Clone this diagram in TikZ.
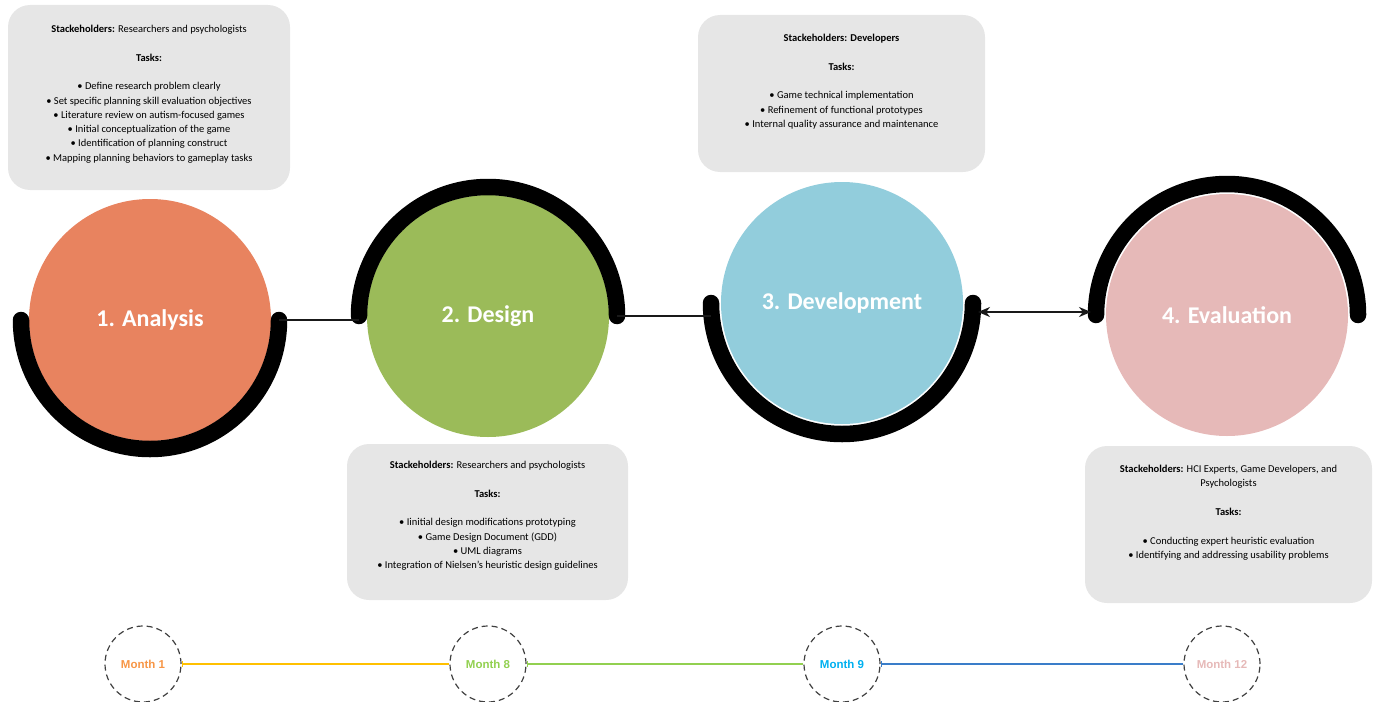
\documentclass[tikz,border=0pt]{standalone}
\usepackage{fontspec}
\setmainfont{Carlito}
\newfontfamily\monthfont{Liberation Sans}
\usetikzlibrary{arrows.meta,calc}

\definecolor{analysisC}{HTML}{E8835F}
\definecolor{designC}{HTML}{9BBB59}
\definecolor{devC}{HTML}{92CDDC}
\definecolor{evalC}{HTML}{E6B9B8}
\definecolor{boxC}{HTML}{E6E6E6}
\definecolor{m1C}{HTML}{F79646}
\definecolor{m8C}{HTML}{92D050}
\definecolor{m9C}{HTML}{00B0F0}
\definecolor{m12C}{HTML}{E6B9B8}
\definecolor{line1C}{HTML}{FFC000}
\definecolor{line2C}{HTML}{92D050}
\definecolor{line3C}{HTML}{3A7DC9}

\begin{document}
\begin{tikzpicture}[x=1pt,y=1pt,
  phase/.style={circle, fill=#1, draw=none, minimum size=242pt, inner sep=0pt,
    text=white, font=\fontsize{24}{28}\selectfont\bfseries},
  ring/.style={line width=16.5pt, line cap=round, black},
  link/.style={line width=1.8pt, black!90},
  infobox/.style={fill=boxC, draw=none, rounded corners=22pt, inner sep=0pt},
  infotext/.style={align=center, inner sep=0pt, anchor=north,
    font=\fontsize{10.5}{14.3}\selectfont},
  monthnode/.style={circle, draw=black!75, dashed, dash pattern=on 6pt off 4pt,
    line width=1.2pt, minimum size=76pt, inner sep=0pt,
    font=\monthfont\fontsize{11.5}{13}\selectfont\bfseries, text=#1},
  monthline/.style={line width=1.5pt, draw=#1, {Bar[width=6pt,length=0pt]}-}
]
\useasboundingbox (0,0) rectangle (1375,-701);

% phase circles
\node[phase=analysisC] (c1) at (150,-320) {1. Analysis};
\node[phase=designC]   (c2) at (488,-316) {2. Design};
\node[phase=devC]      (c3) at (842,-303) {3. Development};
\node[phase=evalC]     (c4) at (1227,-315) {4. Evaluation};

% half rings around the circles
\draw[ring] ($(c1.center)+(180:129)$) coordinate (c1s)
  arc[start angle=180, end angle=360, radius=129] coordinate (c1e);
\draw[ring] ($(c2.center)+(180:129)$) coordinate (c2s)
  arc[start angle=180, end angle=0, radius=129] coordinate (c2e);
\draw[ring] ($(c3.center)+(180:131)$) coordinate (c3s)
  arc[start angle=180, end angle=360, radius=131] coordinate (c3e);
\draw[ring] ($(c4.center)+(180:131)$) coordinate (c4s)
  arc[start angle=180, end angle=0, radius=131] coordinate (c4e);

% connectors between the phases
\draw[link] (c1e) -- (c1e -| c2s);
\draw[link] (c2e) -- (c2e -| c3s);
\coordinate (a3) at ($(c3e)+(5,-9)$);
\coordinate (a4) at ($(a3 -| c4s)+(-5,0)$);
\draw[link, {Stealth[length=12pt,width=10pt]}-{Stealth[length=12pt,width=10pt]}]
  (a3) -- (a4);

% information boxes
\node[infobox, minimum width=282pt, minimum height=185pt] (b1) at (149,-97.5) {};
\node[infotext] (t1) at (149,-25) {%
  \textbf{Stackeholders:} Researchers and psychologists\\[14.3pt]
  \textbf{Tasks:}\\[14.3pt]
  • Define research problem clearly\\
  • Set specific planning skill evaluation objectives\\
  • Literature review on autism-focused games\\
  • Initial conceptualization of the game\\
  • Identification of planning construct\\
  • Mapping planning behaviors to gameplay tasks};

\node[infobox, minimum width=287pt, minimum height=157pt] (b2) at (841.5,-93.5) {};
\node[infotext] (t2) at (841.5,-34) {%
  \textbf{Stackeholders: Developers}\\[14.3pt]
  \textbf{Tasks:}\\[14.3pt]
  • Game technical implementation\\
  • Refinement of functional prototypes\\
  • Internal quality assurance and maintenance};

\node[infobox, minimum width=281pt, minimum height=156pt] (b3) at (487.5,-522) {};
\node[infotext] (t3) at (487.5,-461) {%
  \textbf{Stackeholders:} Researchers and psychologists\\[14.3pt]
  \textbf{Tasks:}\\[14.3pt]
  • Iinitial design modifications prototyping\\
  • Game Design Document (GDD)\\
  • UML diagrams\\
  • Integration of Nielsen’s heuristic design guidelines};

\node[infobox, minimum width=287pt, minimum height=157pt] (b4) at (1228.5,-524.5) {};
\node[infotext] (t4) at (1228.5,-465) {%
  \textbf{Stackeholders:} HCI Experts, Game Developers, and\\
  Psychologists\\[14.3pt]
  \textbf{Tasks:}\\[14.3pt]
  • Conducting expert heuristic evaluation\\
  • Identifying and addressing usability problems};

% timeline
\node[monthnode=m1C]  (m1)  at (143,-664)  {Month 1};
\node[monthnode=m8C]  (m8)  at (488,-664)  {Month 8};
\node[monthnode=m9C]  (m9)  at (842,-664)  {Month 9};
\node[monthnode=m12C] (m12) at (1222,-664) {Month 12};

\draw[monthline=line1C] (m1.east) -- (m8.west);
\draw[monthline=line2C] (m8.east) -- (m9.west);
\draw[monthline=line3C] (m9.east) -- (m12.west);
\end{tikzpicture}
\end{document}
